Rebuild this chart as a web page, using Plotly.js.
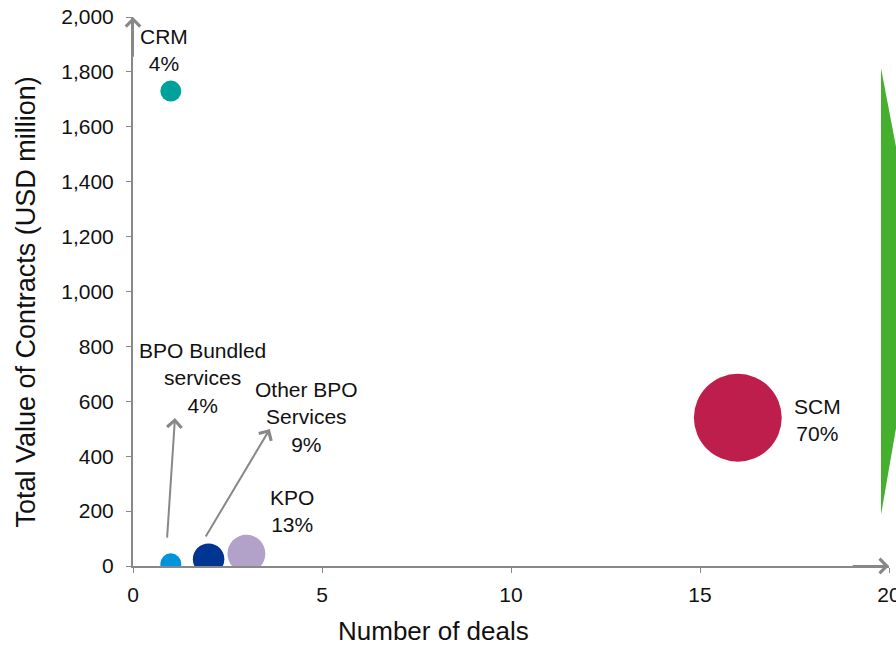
<!DOCTYPE html>
<html>
<head>
<meta charset="utf-8">
<script src="https://cdn.plot.ly/plotly-3.0.1.min.js"></script>
<style>html,body{margin:0;padding:0;background:#fff;}#chart{width:896px;height:646px;}</style>
</head>
<body>
<div id="chart"></div>
<script>
// Data
const segments = ["CRM", "BPO Bundled services", "Other BPO Services", "KPO", "SCM"];
const labelLines = ["CRM<br>4%", "BPO Bundled<br>services<br>4%", "Other BPO<br>Services<br>9%", "KPO<br>13%", "SCM<br>70%"];
const numDeals = [1, 1, 2, 3, 16];
const contractValue = [1730, 8, 25, 45, 540];
const sharePct = [4, 4, 9, 13, 70];
const colors = ["#00A19A", "#0095DA", "#003591", "#B2A1C9", "#BE1E4B"];
const xTicks = [0, 5, 10, 15, 20];
const yTicks = [0, 200, 400, 600, 800, 1000, 1200, 1400, 1600, 1800, 2000];
const xTitle = "Number of deals";
const yTitle = "Total Value of Contracts (USD million)";

// label positions (data coordinates)
const labelX = [0.82, 1.85, 4.6, 4.21, 18.1];
const labelY = [1880, 685, 543, 200, 532];

const FONT = "Liberation Sans, Arial, sans-serif";
const GRAY = "#888888";

const traces = [{
  type: "scatter",
  mode: "markers",
  x: numDeals,
  y: contractValue,
  text: segments,
  marker: {
    size: sharePct,
    sizemode: "area",
    sizeref: 8 / 441,
    color: colors,
    line: {width: 0},
    opacity: 1
  },
  cliponaxis: true,
  hoverinfo: "text"
}];

const annotations = labelLines.map((t, i) => ({
  x: labelX[i], y: labelY[i], xref: "x", yref: "y",
  text: t, showarrow: false,
  font: {family: FONT, size: 21, color: "#111"},
  align: "center", xanchor: "center", yanchor: "middle"
}));

// pointer arrows from small bubbles to their labels
annotations.push({
  x: 1.11, y: 539, ax: 0.9, ay: 98, xref: "x", yref: "y", axref: "x", ayref: "y",
  text: "", showarrow: true, arrowhead: 4, arrowsize: 1.4, arrowwidth: 2, arrowcolor: GRAY
});
annotations.push({
  x: 3.62, y: 499, ax: 1.9, ay: 102, xref: "x", yref: "y", axref: "x", ayref: "y",
  text: "", showarrow: true, arrowhead: 4, arrowsize: 1.4, arrowwidth: 2, arrowcolor: GRAY
});
// axis end arrows
annotations.push({
  x: 0, y: 2000, ax: 0, ay: 1850, xref: "x", yref: "y", axref: "x", ayref: "y",
  text: "", showarrow: true, arrowhead: 4, arrowsize: 1.4, arrowwidth: 2, arrowcolor: GRAY
});
annotations.push({
  x: 20, y: 0, ax: 19, ay: 0, xref: "x", yref: "y", axref: "x", ayref: "y",
  text: "", showarrow: true, arrowhead: 4, arrowsize: 1.4, arrowwidth: 2, arrowcolor: GRAY
});
// axis titles
annotations.push({
  x: 0, y: 0.5, xref: "paper", yref: "paper", xshift: -108, yshift: -11,
  text: yTitle, showarrow: false, textangle: -90,
  font: {family: FONT, size: 27, color: "#111"},
  xanchor: "center", yanchor: "middle"
});
annotations.push({
  x: 0.397, y: 0, xref: "paper", yref: "paper", yshift: -65,
  text: xTitle, showarrow: false,
  font: {family: FONT, size: 26, color: "#111"},
  xanchor: "center", yanchor: "middle"
});

const layout = {
  width: 896, height: 646,
  margin: {l: 133, r: 7, t: 17, b: 80},
  paper_bgcolor: "#fff", plot_bgcolor: "#fff",
  showlegend: false,
  font: {family: FONT, color: "#111"},
  xaxis: {
    range: [0, 20], tickvals: xTicks, ticktext: xTicks.map(String),
    showgrid: false, zeroline: false,
    showline: true, linecolor: GRAY, linewidth: 2,
    ticks: "outside", ticklen: 5, tickcolor: GRAY, tickwidth: 1,
    ticklabelstandoff: 4, ticklabeloverflow: "allow",
    tickfont: {family: FONT, size: 21, color: "#111"}
  },
  yaxis: {
    range: [0, 2000], tickvals: yTicks, ticktext: yTicks.map(v => v.toLocaleString("en-US")),
    showgrid: false, zeroline: false,
    showline: true, linecolor: GRAY, linewidth: 2,
    ticks: "outside", ticklen: 5, tickcolor: GRAY, tickwidth: 1,
    ticklabelstandoff: 8, ticklabeloverflow: "allow",
    tickfont: {family: FONT, size: 21, color: "#111"}
  },
  annotations: annotations,
  shapes: [{
    type: "path", xref: "paper", yref: "paper",
    path: "M 0.9894 0.9071 L 1.0093 0.7632 L 1.0093 0.2514 L 0.9894 0.0929 Z",
    fillcolor: "#45B02E", line: {width: 0}, layer: "above"
  }]
};

Plotly.newPlot("chart", traces, layout, {displayModeBar: false, staticPlot: true});
</script>
</body>
</html>
